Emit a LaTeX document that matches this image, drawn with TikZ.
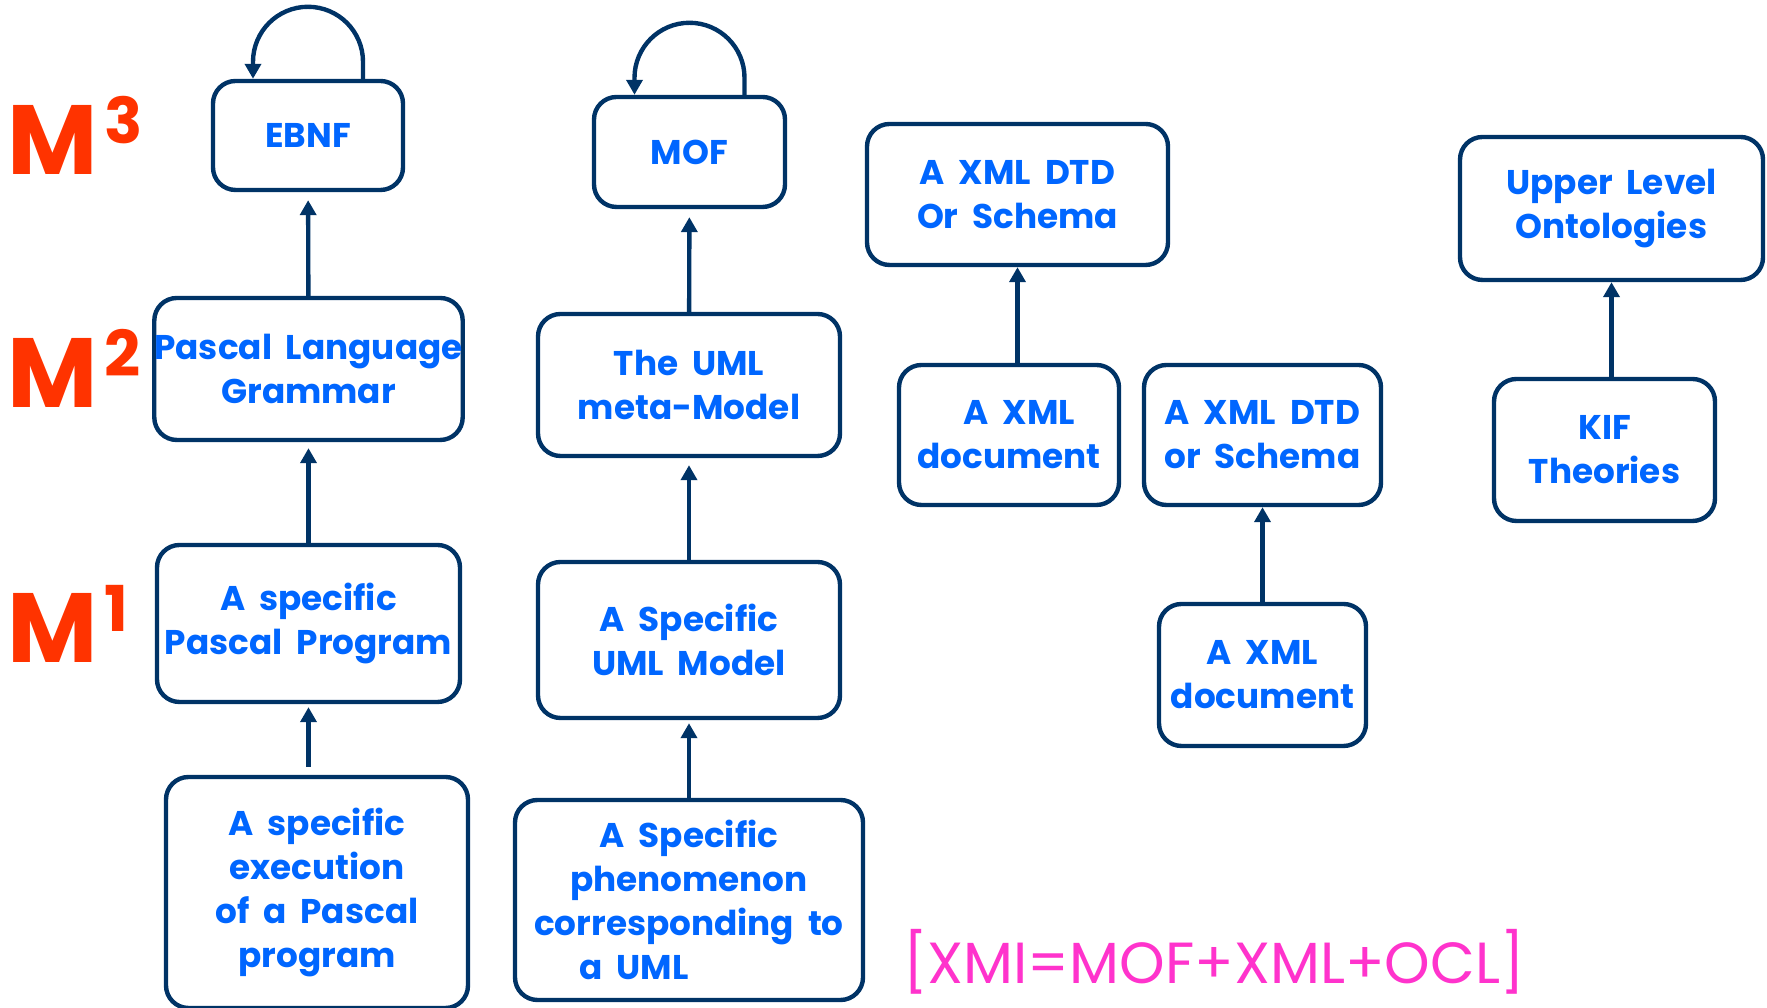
\documentclass[tikz,border=0pt]{standalone}
\usepackage{fontspec}
\setmainfont{Poppins}[WordSpace=1.9]
\usetikzlibrary{arrows.meta}
\definecolor{boxline}{HTML}{003366}
\definecolor{boxtext}{HTML}{0066FF}
\definecolor{mred}{HTML}{FF3300}
\definecolor{xmipink}{HTML}{FF33CC}
\newcommand{\lvlsup}[1]{\kern4pt\raisebox{0.62cm}{\fontsize{36}{36}\selectfont #1}}

\begin{document}
\begin{tikzpicture}[
    box/.style={draw=boxline, line width=2.5pt, rounded corners=0.45cm, align=center,
      text=boxtext, font=\fontsize{19.5}{25}\selectfont\bfseries, inner sep=0pt},
    arr/.style={draw=boxline, line width=2.5pt, -{Triangle[width=0.32cm,length=0.3cm]}},
    lvl/.style={anchor=base west, text=mred, inner sep=0pt,
      font=\fontsize{56}{56}\selectfont\bfseries}
  ]
    \useasboundingbox (0,0) rectangle (35.34,20.16);

    \node[lvl] (m3) at (0.14,16.66) {M\lvlsup{3}};
    \node[lvl] (m2) at (0.14,12.00) {M\lvlsup{2}};
    \node[lvl] (m1) at (0.14,6.90) {M\lvlsup{1}};

    \node[box, minimum width=3.8cm, minimum height=2.18cm] (ebnf) at (6.16,17.45) {EBNF};
    \node[box, minimum width=6.06cm, minimum height=2.84cm] (pgram) at (6.17,12.78) {Pascal Language\\Grammar};
    \node[box, minimum width=6.06cm, minimum height=3.14cm] (pprog) at (6.17,7.69) {A specific\\Pascal Program};
    \node[box, minimum width=6.04cm, minimum height=4.62cm] (pexec) at (6.34,2.31) {A specific\\execution\\of a Pascal\\program};

    \node[box, minimum width=3.82cm, minimum height=2.2cm] (mof) at (13.79,17.12) {MOF};
    \node[box, minimum width=6.04cm, minimum height=2.84cm] (umlmeta) at (13.78,12.46) {The UML\\meta-Model};
    \node[box, minimum width=6.04cm, minimum height=3.12cm] (umlmodel) at (13.78,7.36) {A Specific\\UML Model};
    \node[box, minimum width=6.96cm, minimum height=4.0cm] (phen) at (13.78,2.16) {A Specific\\phenomenon\\corresponding to\\a UML\hspace*{3.2em}};

    \node[box, minimum width=6.02cm, minimum height=2.82cm] (xsch) at (20.35,16.27) {A XML DTD\\Or Schema};
    \node[box, minimum width=4.4cm, minimum height=2.8cm] (xdoc) at (20.18,11.46) {\hspace*{0.6em}A XML\\document};
    \node[box, minimum width=4.74cm, minimum height=2.8cm] (xschb) at (25.25,11.46) {A XML DTD\\or Schema};
    \node[box, minimum width=4.14cm, minimum height=2.84cm] (xdocb) at (25.25,6.66) {A XML\\document};

    \node[box, minimum width=6.06cm, minimum height=2.86cm] (upper) at (32.23,15.99) {Upper Level\\Ontologies};
    \node[box, minimum width=4.42cm, minimum height=2.84cm] (kif) at (32.09,11.16) {KIF\\Theories};

    \node[text=xmipink, font=\fontsize{33}{33}\selectfont, inner sep=0pt] (xmi) at (24.28,0.92) {[XMI=MOF+XML+OCL]};

    \draw[arr] ([xshift=1.1cm]ebnf.north) -- ++(0,0.34) arc[start angle=0, end angle=180, radius=1.1cm] -- ([xshift=-1.1cm]ebnf.north);
    \draw[arr] ([xshift=1.1cm]mof.north) -- ++(0,0.34) arc[start angle=0, end angle=180, radius=1.1cm] -- ([xshift=-1.1cm]mof.north);

    \draw[arr, shorten >=0.16cm] (pgram) -- (ebnf);
    \draw[arr, shorten >=0.12cm] (pprog) -- (pgram);
    \draw[arr, shorten <=0.16cm, shorten >=0.06cm] (pexec.north -| pprog.south) -- (pprog.south);
    \draw[arr, shorten >=0.16cm] (umlmeta) -- (mof);
    \draw[arr, shorten >=0.14cm] (umlmodel) -- (umlmeta);
    \draw[arr, shorten >=0.06cm] (phen) -- (umlmodel);
    \draw[arr] (xdoc.north -| xsch.south) -- (xsch.south);
    \draw[arr] (xdocb) -- (xschb);
    \draw[arr] (kif.north -| upper.south) -- (upper.south);
  \end{tikzpicture}
\end{document}
